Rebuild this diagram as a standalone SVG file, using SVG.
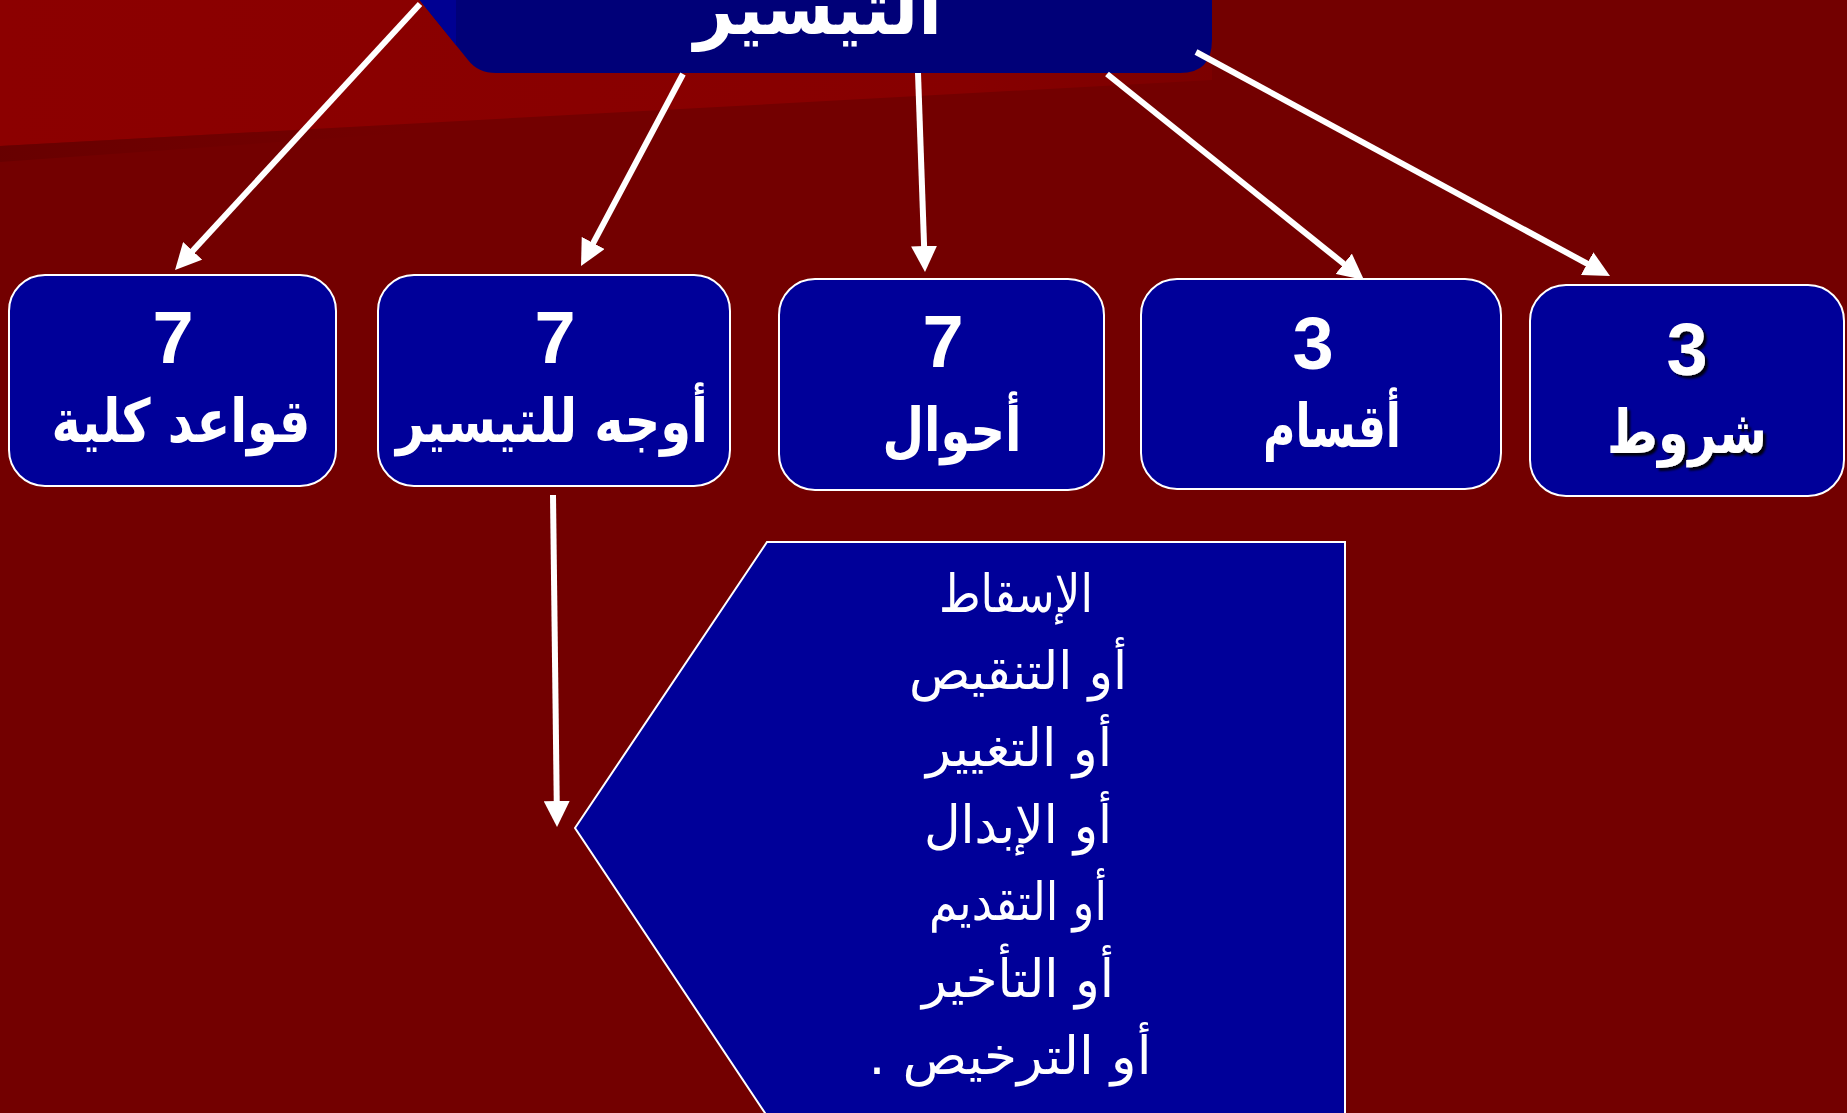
<svg xmlns="http://www.w3.org/2000/svg" width="1847" height="1113" viewBox="0 0 1847 1113">
  <defs>
    <style>
      .box { fill: #000099; stroke: #ffffff; stroke-width: 2; }
      .num { font-family: "Liberation Sans", Arial, sans-serif; font-weight: bold; font-size: 74px; fill: #ffffff; text-anchor: middle; }
      .lbl { font-family: "DejaVu Sans", "Liberation Sans", sans-serif; font-weight: bold; font-size: 60px; fill: #ffffff; text-anchor: middle; direction: rtl; }
      .item { font-family: "DejaVu Sans", "Liberation Sans", sans-serif; font-size: 52px; fill: #ffffff; text-anchor: middle; direction: rtl; }
      .arrow { stroke: #ffffff; stroke-width: 6; fill: none; marker-end: url(#head); }
    </style>
    <marker id="head" markerUnits="userSpaceOnUse" markerWidth="26" markerHeight="26" refX="6" refY="13" orient="auto" viewBox="0 0 26 26">
      <path d="M0,0 L26,13 L0,26 Z" fill="#ffffff"/>
    </marker>
    <linearGradient id="bright" x1="0" y1="0" x2="1" y2="0">
      <stop offset="0" stop-color="#8c0000"/>
      <stop offset="0.8" stop-color="#870000"/>
      <stop offset="1" stop-color="#7c0000"/>
    </linearGradient>
    <linearGradient id="band" x1="0" y1="0" x2="1" y2="0">
      <stop offset="0" stop-color="#660000" stop-opacity="0.9"/>
      <stop offset="0.6" stop-color="#6c0000" stop-opacity="0"/>
    </linearGradient>
    <filter id="shadow" x="-10%" y="-10%" width="130%" height="130%">
      <feDropShadow dx="3" dy="3" stdDeviation="0.8" flood-color="#000000" flood-opacity="0.9"/>
    </filter>
    <clipPath id="titleClip">
      <path d="M418,-20 L1212,-20 L1212,40 Q1212,73 1180,73 L496,73 Q478,73 468,60 L418,-2 Z"/>
    </clipPath>
  </defs>

  <!-- background -->
  <rect x="0" y="0" width="1847" height="1113" fill="#730000"/>
  <polygon points="0,0 1212,0 1212,80 0,146" fill="url(#bright)"/>
  <polygon points="0,146 700,108 700,112 0,162" fill="url(#band)"/>

  <!-- top node -->
  <g id="node-title">
    <path d="M418,-20 L1212,-20 L1212,40 Q1212,73 1180,73 L496,73 Q478,73 468,60 L418,-2 Z" fill="#000078"/>
    <rect x="400" y="-20" width="56" height="80" fill="#000092" clip-path="url(#titleClip)"/>
    <text x="818" y="34" font-family="DejaVu Sans, sans-serif" font-weight="bold" font-size="74" fill="#ffffff" text-anchor="middle" direction="rtl" textLength="248" lengthAdjust="spacingAndGlyphs">التيسير</text>
  </g>

  <!-- connectors -->
  <g id="connectors">
    <line class="arrow" x1="420" y1="4" x2="188.6" y2="255.3"/>
    <line class="arrow" x1="683" y1="74" x2="590.4" y2="248.3"/>
    <line class="arrow" x1="918" y1="73" x2="924.3" y2="252"/>
    <line class="arrow" x1="1107" y1="74" x2="1348.4" y2="267.5"/>
    <line class="arrow" x1="1196" y1="52" x2="1592.4" y2="266.5"/>
    <line class="arrow" x1="553" y1="495" x2="556.8" y2="807"/>
  </g>

  <!-- row of nodes -->
  <g id="node-qawaid">
    <rect class="box" x="9" y="275" width="327" height="211" rx="36" ry="36"/>
    <text class="num" x="173" y="363">7</text>
    <text class="lbl" x="181" y="442" textLength="259" lengthAdjust="spacingAndGlyphs">قواعد كلية</text>
  </g>
  <g id="node-awjuh">
    <rect class="box" x="378" y="275" width="352" height="211" rx="36" ry="36"/>
    <text class="num" x="555" y="363">7</text>
    <text class="lbl" x="552" y="442" textLength="312" lengthAdjust="spacingAndGlyphs">أوجه للتيسير</text>
  </g>
  <g id="node-ahwal">
    <rect class="box" x="779" y="279" width="325" height="211" rx="36" ry="36"/>
    <text class="num" x="943" y="367">7</text>
    <text class="lbl" x="952" y="451" textLength="139" lengthAdjust="spacingAndGlyphs">أحوال</text>
  </g>
  <g id="node-aqsam">
    <rect class="box" x="1141" y="279" width="360" height="210" rx="36" ry="36"/>
    <text class="num" x="1313" y="369">3</text>
    <text class="lbl" x="1332" y="447" textLength="138" lengthAdjust="spacingAndGlyphs">أقسام</text>
  </g>
  <g id="node-shurut">
    <rect class="box" x="1530" y="285" width="314" height="211" rx="36" ry="36"/>
    <g filter="url(#shadow)">
      <text class="num" x="1687" y="375">3</text>
      <text class="lbl" x="1687" y="453" textLength="160" lengthAdjust="spacingAndGlyphs">شروط</text>
    </g>
  </g>

  <!-- pentagon node -->
  <g id="node-list">
    <polygon points="575,828 767,542 1345,542 1345,1116 767,1116" fill="#000099" stroke="#ffffff" stroke-width="2"/>
    <text class="item" x="1016" y="612" textLength="154" lengthAdjust="spacingAndGlyphs">الإسقاط</text>
    <text class="item" x="1018" y="689" textLength="218" lengthAdjust="spacingAndGlyphs">أو التنقيص</text>
    <text class="item" x="1019" y="766" textLength="186" lengthAdjust="spacingAndGlyphs">أو التغيير</text>
    <text class="item" x="1018" y="843" textLength="188" lengthAdjust="spacingAndGlyphs">أو الإبدال</text>
    <text class="item" x="1018" y="920" textLength="178" lengthAdjust="spacingAndGlyphs">أو التقديم</text>
    <text class="item" x="1018" y="997" textLength="192" lengthAdjust="spacingAndGlyphs">أو التأخير</text>
    <text class="item" x="1010" y="1074" textLength="283" lengthAdjust="spacingAndGlyphs">أو الترخيص .</text>
  </g>
</svg>
